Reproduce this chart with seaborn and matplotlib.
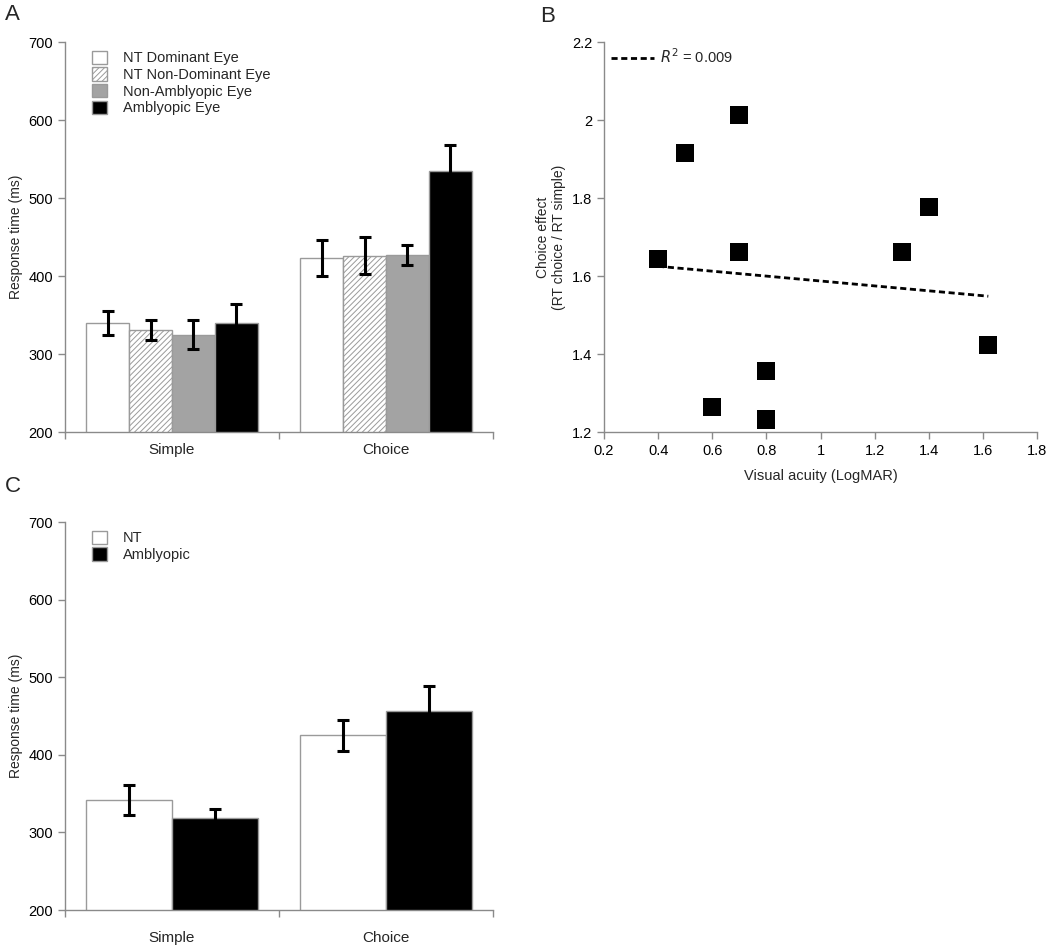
import numpy as np
import pandas as pd
import matplotlib
matplotlib.use("Agg")
import matplotlib.pyplot as plt
from matplotlib.patches import Patch
from matplotlib.lines import Line2D
from matplotlib.ticker import FuncFormatter
import seaborn as sns

# ---------------- data ----------------
categories = ["Simple", "Choice"]

groups_a = ["NT Dominant Eye", "NT Non-Dominant Eye", "Non-Amblyopic Eye", "Amblyopic Eye"]
simple_a = [340, 331, 325, 340]
choice_a = [423, 426, 427, 535]
err_simple_a = [15, 13, 19, 24]
err_choice_a = [23.5, 23.5, 12.5, 33]

groups_c = ["NT", "Amblyopic"]
simple_c = [342, 318]
choice_c = [425, 456]
err_simple_c = [19, 12]
err_choice_c = [19.5, 33]

acuity = [0.4, 0.5, 0.6, 0.7, 0.7, 0.8, 0.8, 1.3, 1.4, 1.62]
choice_effect = [1.643, 1.915, 1.263, 2.013, 1.662, 1.357, 1.232, 1.662, 1.776, 1.423]
r2_label = "$R^2$ = 0.009"

bar_ticks = [200, 300, 400, 500, 600, 700]
b_xticks = [0.2, 0.4, 0.6, 0.8, 1.0, 1.2, 1.4, 1.6, 1.8]
b_yticks = [1.2, 1.4, 1.6, 1.8, 2.0, 2.2]

# ---------------- style ----------------
sns.set_style("ticks")
plt.rcParams["font.family"] = ["Liberation Sans", "DejaVu Sans"]
plt.rcParams["hatch.linewidth"] = 0.7
SPINE = "#8a8a8a"
EDGE = "#9a9a9a"
GRAY = "#a3a3a3"

fig = plt.figure(figsize=(10.5, 9.46), dpi=100)
W, H = 1050, 946


def box(l, t, r, b):
    return [l / W, 1 - b / H, (r - l) / W, (b - t) / H]


axA = fig.add_axes(box(65, 42, 493, 432))
axB = fig.add_axes(box(604, 42, 1037, 432))
axC = fig.add_axes(box(65, 522, 493, 910))


def style_axis(ax):
    sns.despine(ax=ax)
    for s in ("left", "bottom"):
        ax.spines[s].set_color(SPINE)
        ax.spines[s].set_linewidth(1)
    ax.tick_params(axis="both", which="major", color=SPINE, length=5, width=1,
                   labelsize=10.5, labelcolor="black", direction="out")


def bar_panel(ax, groups, simple, choice, err_s, err_c, colors, hatches, cat_pad):
    df = pd.DataFrame({
        "condition": [categories[0]] * len(groups) + [categories[1]] * len(groups),
        "group": list(groups) * 2,
        "rt": list(simple) + list(choice),
        "err": list(err_s) + list(err_c),
    })
    sns.barplot(data=df, x="condition", y="rt", hue="group", hue_order=groups,
                order=categories, palette=colors, saturation=1, width=0.8,
                edgecolor=EDGE, linewidth=1, errorbar=None, legend=False, ax=ax)
    bar_conts = list(ax.containers)
    for gi, cont in enumerate(bar_conts):
        sub = df[df["group"] == groups[gi]].set_index("condition").loc[categories]
        xs, hs = [], []
        for patch in cont.patches:
            if hatches[gi]:
                patch.set_hatch(hatches[gi])
            xs.append(patch.get_x() + patch.get_width() / 2)
            hs.append(patch.get_height())
        ax.errorbar(xs, hs, yerr=sub["err"].values, fmt="none", ecolor="black",
                    elinewidth=2.2, capsize=4, capthick=2.2, zorder=5)
    ax.set_ylim(200, 700)
    ax.set_yticks(bar_ticks)
    ax.set_xlim(-0.5, 1.5)
    ax.set_xticks([-0.5, 0.5, 1.5])
    ax.set_xticklabels([])
    ax.set_xticks([0, 1], minor=True)
    ax.set_xticklabels(categories, minor=True)
    ax.set_xlabel("")
    ax.set_ylabel("Response time (ms)", fontsize=10)
    style_axis(ax)
    ax.tick_params(axis="x", which="minor", length=0, labelsize=11, pad=cat_pad)
    handles = [Patch(facecolor=c, edgecolor=EDGE, hatch=h, linewidth=1)
               for c, h in zip(colors, hatches)]
    ax.legend(handles, groups, loc="upper left", bbox_to_anchor=(0.043, 1.0),
              frameon=False, fontsize=10.5, handlelength=1.0, handleheight=1.0,
              handletextpad=1.1, labelspacing=0.15, borderaxespad=0.2)


bar_panel(axA, groups_a, simple_a, choice_a, err_simple_a, err_choice_a,
          ["white", "white", GRAY, "black"], [None, "//////", None, None], 8)
bar_panel(axC, groups_c, simple_c, choice_c, err_simple_c, err_choice_c,
          ["white", "black"], [None, None], 15)

# ---------------- panel B ----------------
sns.scatterplot(x=acuity, y=choice_effect, marker="s", s=170, color="black",
                edgecolor="none", ax=axB, zorder=3)
sns.regplot(x=np.array(acuity), y=np.array(choice_effect), scatter=False, ci=None,
            truncate=True, ax=axB,
            line_kws=dict(color="black", lw=2, linestyle=(0, (2.2, 1.3))))
axB.set_xlim(0.2, 1.8)
axB.set_ylim(1.2, 2.2)
axB.set_xticks(b_xticks)
axB.set_yticks(b_yticks)
fmt = FuncFormatter(lambda v, p: f"{v:g}")
axB.xaxis.set_major_formatter(fmt)
axB.yaxis.set_major_formatter(fmt)
axB.set_xlabel("Visual acuity (LogMAR)", fontsize=10.5, labelpad=8)
axB.set_ylabel("Choice effect\n(RT choice / RT simple)", fontsize=10)
style_axis(axB)
axB.legend([Line2D([], [], color="black", lw=2, linestyle=(0, (2.2, 1.3)))],
           [r2_label], loc="upper left", bbox_to_anchor=(-0.005, 1.008), frameon=False,
           fontsize=10.5, handlelength=3.0, handletextpad=0.4, borderaxespad=0.2)

# ---------------- panel letters ----------------
fig.text(5 / W, 1 - 4 / H, "A", fontsize=16, va="top", ha="left")
fig.text(540 / W, 1 - 6 / H, "B", fontsize=16, va="top", ha="left")
fig.text(5 / W, 1 - 476 / H, "C", fontsize=16, va="top", ha="left")

fig.savefig("out.png", dpi=100)
